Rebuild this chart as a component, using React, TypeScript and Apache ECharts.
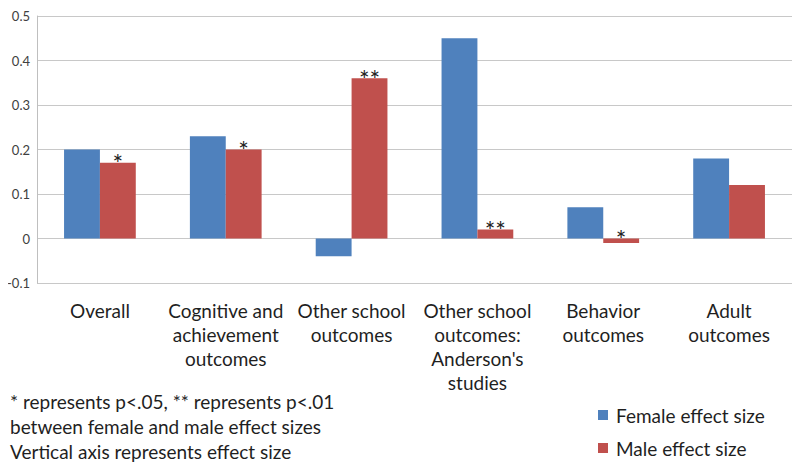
import React, { useEffect, useRef } from "react";
import * as echarts from "echarts";

const categories = [
  "Overall",
  "Cognitive and\nachievement\noutcomes",
  "Other school\noutcomes",
  "Other school\noutcomes:\nAnderson's\nstudies",
  "Behavior\noutcomes",
  "Adult\noutcomes",
];
const femaleValues = [0.2, 0.23, -0.04, 0.45, 0.07, 0.18];
const maleValues = [0.17, 0.2, 0.36, 0.02, -0.01, 0.12];
const maleSignificance = ["*", "*", "**", "**", "*", ""];
const seriesNames = ["Female effect size", "Male effect size"];
const yTicks = { min: -0.1, max: 0.5, interval: 0.1 };
const notes = [
  "* represents p<.05, ** represents p<.01",
  "between female and male effect sizes",
  "Vertical axis represents effect size",
];

const FONT = "Lato, 'Open Sans', sans-serif";
const TEXT = "#1f1f1f";

export default function App() {
  const ref = useRef<HTMLDivElement>(null);
  useEffect(() => {
    if (!ref.current) return;
    const chart = echarts.init(ref.current, null, { renderer: "svg" });
    const legendBase = {
      orient: "vertical",
      left: 585,
      itemWidth: 10,
      itemHeight: 10,
      icon: "rect",
      textStyle: {
        fontSize: 19,
        lineHeight: 20,
        color: TEXT,
        fontFamily: FONT,
        padding: [0, 0, 0, 3],
      },
    };
    chart.setOption({
      animation: false,
      textStyle: { fontFamily: FONT },
      grid: {
        left: 29,
        right: 8,
        top: 8,
        bottom: 183,
        containLabel: false,
        outerBoundsMode: "none",
      },
      legend: [
        { ...legendBase, top: 392, data: [seriesNames[0]] },
        { ...legendBase, top: 425, data: [seriesNames[1]] },
      ],
      xAxis: {
        type: "category",
        data: categories,
        axisLine: { show: false },
        axisTick: { show: false },
        axisLabel: {
          interval: 0,
          margin: 15,
          fontSize: 19,
          lineHeight: 24,
          color: TEXT,
          fontFamily: FONT,
          align: "center",
        },
      },
      yAxis: {
        type: "value",
        min: yTicks.min,
        max: yTicks.max,
        interval: yTicks.interval,
        axisLine: { show: true, lineStyle: { color: "#bfbfbf", width: 1 } },
        axisTick: { show: false },
        splitLine: { show: true, lineStyle: { color: "#c8c8c8", width: 1 } },
        axisLabel: {
          fontSize: 13,
          color: "#404040",
          margin: 7,
          fontFamily: FONT,
          formatter: (v: number) => {
            const r = Math.round(v * 10) / 10;
            return r === 0 ? "0" : String(r);
          },
        },
      },
      series: [
        {
          name: seriesNames[0],
          type: "bar",
          data: femaleValues,
          barGap: "0%",
          barCategoryGap: "43%",
          itemStyle: { color: "#4F81BD" },
        },
        {
          name: seriesNames[1],
          type: "bar",
          data: maleValues,
          barGap: "0%",
          barCategoryGap: "43%",
          itemStyle: { color: "#C0504D" },
          label: {
            show: true,
            position: "top",
            distance: -13,
            fontSize: 25,
            color: "#222",
            fontFamily: FONT,
            formatter: (p: any) => maleSignificance[p.dataIndex],
          },
        },
      ],
      graphic: notes.map((t, i) => ({
        type: "text",
        x: 2,
        y: 393 + i * 25,
        style: {
          text: t,
          fontSize: 19,
          fill: TEXT,
          fontFamily: FONT,
          verticalAlign: "middle",
        },
      })),
    });
    return () => chart.dispose();
  }, []);
  return <div ref={ref} style={{ width: 792, height: 458 }} />;
}
